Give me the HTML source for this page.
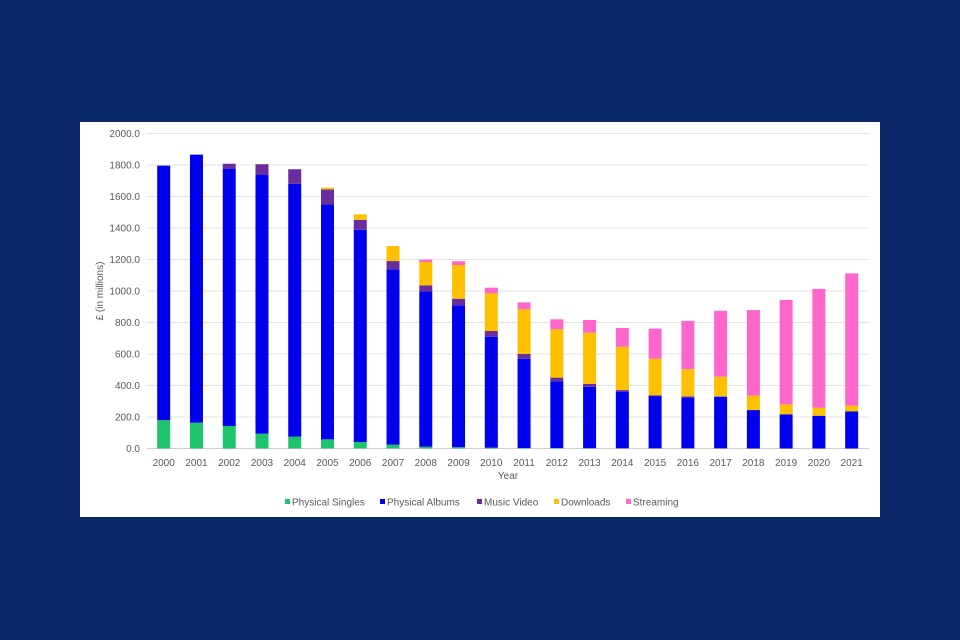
<!DOCTYPE html>
<html><head><meta charset="utf-8"><style>
html,body{margin:0;padding:0;background:#0b2968;width:960px;height:640px;overflow:hidden}
svg text{font-family:"Liberation Sans",Arial,sans-serif;fill:#595959}
</style></head><body>
<svg width="960" height="640" xmlns="http://www.w3.org/2000/svg">
<rect x="0" y="0" width="960" height="640" fill="#0b2968"/>
<rect x="80" y="122" width="800" height="395" fill="#ffffff"/>
<g id="grid"></g><g id="yticks"></g><g id="bars"></g><g id="xticks"></g><g id="legend"></g>
<text x="103" y="291" font-size="10" text-anchor="middle" transform="rotate(-90 103 291)">£ (in millions)</text>
<text x="508" y="479" font-size="10" text-anchor="middle">Year</text>
</svg>
<script>
const years=["2000","2001","2002","2003","2004","2005","2006","2007","2008","2009","2010","2011","2012","2013","2014","2015","2016","2017","2018","2019","2020","2021"];
const singles=[180,164,143,94,75,58,41,24,11,8,5,3,3,2,1,1,1,1,0,0,0,0];
const albums=[1616,1702,1634,1645,1606,1492,1348,1114,987,901,705,567,423,390,360,332,322,328,244,217,208,236];
const video=[0,0,31,66,92,95,63,52,38,42,36,30,24,18,10,5,8,2,0,0,0,0];
const downloads=[0,0,0,0,0,11,35,96,148,214,239,284,307,325,275,232,173,125,92,63,51,36];
const streaming=[0,0,0,0,0,0,0,0,15,24,36,44,63,81,119,191,306,418,543,663,754,840];
const yTicks=[0,200,400,600,800,1000,1200,1400,1600,1800,2000];
const seriesNames=["Physical Singles","Physical Albums","Music Video","Downloads","Streaming"];
const NS="http://www.w3.org/2000/svg";
const colors=["#1ec46c","#0000ee","#6a2d9e","#ffc000","#ff66cc"];
const series=[singles,albums,video,downloads,streaming];
const y0=448.5,yMax=133.5;
function yS(v){return y0-(v/2000)*(y0-yMax);}
function xS(i){return 163.7+i*32.76;}
function mk(tag,attrs,parent){const e=document.createElementNS(NS,tag);for(const k in attrs)e.setAttribute(k,attrs[k]);document.getElementById(parent).appendChild(e);return e;}
yTicks.forEach(t=>{
  const l=mk('line',{x1:147,x2:869,y1:yS(t),y2:yS(t),stroke:t===0?'#d0d0d0':'#e3e3e3','stroke-width':1},'grid');
  
  
  const tx=mk('text',{x:140,y:yS(t)+3.5,'font-size':10,'text-anchor':'end'},'yticks');
  tx.textContent=t.toFixed(1);
  
  
});
years.forEach((yr,i)=>{
  let cum=0;
  series.forEach((s,k)=>{
    const v=s[i]; if(v<=0)return;
    const r=mk('rect',{x:xS(i)-6.5,y:yS(cum+v),width:13,height:yS(cum)-yS(cum+v),fill:colors[k]},'bars');
    
    
    cum+=v;
  });
  const t=mk('text',{x:xS(i),y:466,'font-size':10,'text-anchor':'middle'},'xticks');
  t.textContent=yr;
  
  
});
const legX=[285,380,477,554,626];
seriesNames.forEach((n,k)=>{
  const r=mk('rect',{x:legX[k],y:499,width:5,height:5,fill:colors[k]},'legend');
  
  
  const t=mk('text',{x:legX[k]+7,y:505.5,'font-size':10},'legend');
  t.textContent=n;
  
  
});
</script>
</body></html>
